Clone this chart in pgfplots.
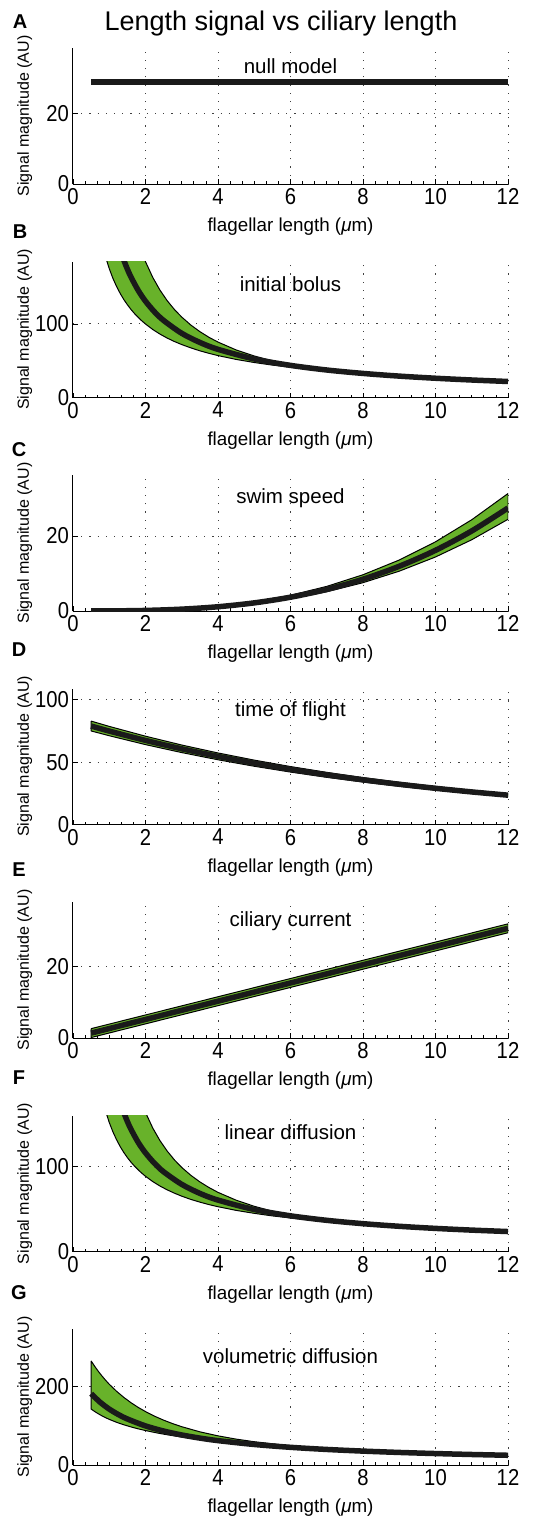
\documentclass[border=0pt]{standalone}
\usepackage{fontspec}
\setmainfont{Liberation Sans}
\usepackage{pgfplots}
\usepackage{pgfplotstable}
\pgfplotsset{compat=1.18}
\definecolor{bandgreen}{RGB}{104,178,42}
\definecolor{linecol}{RGB}{26,26,26}

% ---------- B: initial bolus ----------
\pgfplotstableread{
x y
0.9 519.4
1.0 453.2
1.1 400.6
1.2 358.0
1.3 322.7
1.4 293.2
1.5 268.2
1.6 246.7
1.7 228.1
1.8 211.8
1.9 197.5
2.0 184.8
2.2 163.4
2.4 146.0
2.6 131.6
2.8 119.6
3.0 109.4
3.25 98.6
3.5 89.6
3.75 81.9
4 75.4
4.5 64.7
5 56.5
5.5 49.9
6 44.6
7 37.4
8 32.75
9 29.11
10 26.2
11 23.82
12 21.83
11 23.82
10 26.2
9 29.11
8 32.5
7 36.2
6 41.1
5.5 44.1
5 47.6
4.5 51.8
4 57.0
3.75 60.1
3.5 63.5
3.25 67.5
3.0 72.0
2.8 76.1
2.6 80.8
2.4 86.2
2.2 92.5
2.0 100.0
1.9 104.2
1.8 108.9
1.7 114.0
1.6 119.8
1.5 126.2
1.4 133.4
1.3 141.7
1.2 151.2
1.1 162.2
1.0 175.3
0.9 190.9
0.9 519.4
}\polyB
\pgfplotstableread{
x c
1.3 201.5
1.4 187.1
1.5 174.7
1.6 163.8
1.8 145.6
2 131
2.25 116.4
2.5 104.8
3 87.3
3.5 74.9
4 65.5
5 52.4
6 43.7
7 37.4
8 32.75
9 29.1
10 26.2
11 23.8
12 21.8
}\cenB

% ---------- C: swim speed ----------
\pgfplotstableread{
x y
0.5 0.003
1 0.023
2 0.173
3 0.563
4 1.296
5 2.476
6 4.20
7 6.57
8 9.68
9 13.61
10 18.47
11 24.36
12 31.35
12 24.48
11 19.02
10 14.42
9 10.63
8 7.56
7 5.13
6 3.28
5 1.933
4 1.012
3 0.440
2 0.135
1 0.018
0.5 0.0024
0.5 0.003
}\polyC
\pgfplotstableread{
x c
0.5 0.0027
1 0.020
2 0.152
3 0.494
4 1.137
5 2.172
6 3.685
7 5.76
8 8.49
9 11.94
10 16.20
11 21.37
12 27.5
}\cenC

% ---------- D: time of flight ----------
\pgfplotstableread{
x y
0.5 82.88
1 78.63
2 70.78
3 63.70
4 57.34
5 51.61
6 46.45
7 41.80
8 37.62
9 33.86
10 30.48
11 27.43
12 24.69
12 22.33
11 24.81
10 27.58
9 30.64
8 34.04
7 37.82
6 42.03
5 46.69
4 51.88
3 57.64
2 64.04
1 71.15
0.5 74.98
0.5 82.88
}\polyD
\pgfplotstableread{
x c
0.5 78.93
1 74.89
2 67.41
3 60.67
4 54.61
5 49.15
6 44.24
7 39.81
8 35.83
9 32.25
10 29.03
11 26.12
12 23.51
}\cenD

% ---------- E: ciliary current ----------
\pgfplotstableread{
x y
0.5 2.63
12 32.07
12 29.57
0.5 0.13
0.5 2.63
}\polyE
\pgfplotstableread{
x c
0.5 1.38
12 30.82
}\cenE

% ---------- F: linear diffusion ----------
\pgfplotstableread{
x y
0.9 449.1
1.0 392.7
1.1 347.9
1.2 311.5
1.3 281.5
1.4 256.3
1.5 234.9
1.6 216.6
1.7 200.7
1.8 186.8
1.9 174.5
2.0 163.7
2.2 145.3
2.4 130.4
2.6 118.1
2.8 107.7
3.0 98.9
3.25 89.7
3.5 81.9
3.75 75.3
4 69.6
4.5 60.4
5 53.2
5.5 47.5
6 42.9
7 36.71
8 32.75
9 29.67
10 27.2
11 25.18
12 23.5
11 25.18
10 27.2
9 29.67
8 32.5
7 35.5
6 39.5
5.5 41.9
5 44.9
4.5 48.4
4 52.7
3.75 55.2
3.5 58.1
3.25 61.3
3.0 65.1
2.8 68.6
2.6 72.5
2.4 77.0
2.2 82.3
2.0 88.5
1.9 92.1
1.8 96.0
1.7 100.3
1.6 105.1
1.5 110.5
1.4 116.6
1.3 123.6
1.2 131.6
1.1 140.9
1.0 151.8
0.9 165.0
0.9 449.1
}\polyF
\pgfplotstableread{
x c
1.3 175.8
1.4 163.6
1.5 153
1.6 143.8
1.8 128.3
2 116
2.25 103.7
2.5 93.8
3 79
3.5 68.4
4 60.5
5 49.4
6 42
7 36.7
8 32.75
9 29.67
10 27.2
11 25.18
12 23.5
}\cenF

% ---------- G: volumetric diffusion ----------
\pgfplotstableread{
x y
0.5 264.0
0.6 250.2
0.7 237.5
0.8 225.8
0.9 215.0
1.0 204.9
1.2 187.2
1.4 171.7
1.6 158.1
1.8 146.1
2.0 135.6
2.25 123.9
2.5 113.8
2.75 105.0
3 97.2
3.5 84.2
4 74.0
4.5 65.7
5 59.1
6 48.9
7 41.8
8 36.6
9 32.6
10 29.5
11 26.9
12 24.8
12 24.7
11 26.7
10 29.1
9 31.9
8 35.2
7 39.3
6 44.4
5 51.0
4.5 54.9
4 59.5
3.5 64.8
3 70.9
2.75 74.5
2.5 78.3
2.25 82.6
2.0 87.5
1.8 91.7
1.6 96.6
1.4 102.1
1.2 108.4
1.0 115.8
0.9 120.1
0.8 124.7
0.7 129.9
0.6 135.6
0.5 142.0
0.5 264.0
}\polyG
\pgfplotstableread{
x c
0.5 181.0
0.75 159.1
1 141.9
1.25 128.1
1.5 116.8
2 99.2
2.5 86.2
3 76.2
3.5 68.3
4 61.9
5 52.1
6 44.9
7 39.5
8 35.3
9 31.9
10 29.1
11 26.7
12 24.7
}\cenG

\pgfplotsset{
  panel/.style={
    scale only axis, width=435pt, height=136pt,
    xmin=0, xmax=12, ymin=0,
    axis x line*=bottom, axis y line*=left,
    axis line style={-, line width=1pt, black},
    xtick={0,2,...,12},
    minor x tick num=5,
    tick align=inside,
    major tick length=5pt, minor tick length=3pt,
    every tick/.style={line width=0.8pt, black},
    grid=major,
    major grid style={dash pattern=on 1.2pt off 7pt, line width=1pt, black!75},
    ticklabel style={font=\fontsize{23}{23}\selectfont, xscale=0.88},
    xticklabel style={yshift=-1pt},
    yticklabel style={xshift=-1pt},
    /pgf/number format/assume math mode=true,
    xlabel={flagellar length ({\itshape μ}m)},
    ylabel={Signal magnitude (AU)},
    xlabel style={font=\fontsize{18.8}{18.8}\selectfont, at={(axis description cs:0.5,-0.316)}, anchor=center},
    ylabel style={font=\fontsize{16}{16}\selectfont, at={(axis description cs:-0.111,0.5)}, anchor=center},
    no markers,
  },
  band/.style={fill=bandgreen, draw=black, line width=1pt, line join=round},
  centre/.style={linecol, line width=5.5pt, smooth},
}
\tikzset{ptext/.style={font=\fontsize{20.5}{24}\selectfont, anchor=center}}

\begin{document}
\begin{tikzpicture}
\useasboundingbox (0pt,0pt) rectangle (544pt,-1520pt);

\node[font=\fontsize{27}{30}\selectfont] at (281pt,-24pt) {Length signal vs ciliary length};

\begin{scope}[every node/.style={font=\fontsize{20}{20}\selectfont\bfseries}]
\node at (20pt,-22pt) {A};
\node at (20pt,-232pt) {B};
\node at (19pt,-450pt) {C};
\node at (19pt,-650pt) {D};
\node at (19pt,-870pt) {E};
\node at (19pt,-1078pt) {F};
\node at (19pt,-1293pt) {G};
\end{scope}

% A
\begin{axis}[panel, at={(73pt,-184pt)}, anchor=south west, ymax=38.8, ytick={0,20}]
\addplot[linecol, line width=6pt] coordinates {(0.5,29) (12,29)};
\node[ptext] at (rel axis cs:0.5,0.868) {null model};
\end{axis}

% B
\begin{axis}[panel, at={(73pt,-397.5pt)}, anchor=south west, ymax=185, ytick={0,100}]
\addplot[band] table[x=x,y=y]{\polyB};
\addplot[centre] table[x=x,y=c]{\cenB};
\node[ptext] at (rel axis cs:0.5,0.831) {initial bolus};
\end{axis}

% C
\begin{axis}[panel, at={(73pt,-611pt)}, anchor=south west, ymax=36.3, ytick={0,20}]
\addplot[band] table[x=x,y=y]{\polyC};
\addplot[centre] table[x=x,y=c]{\cenC};
\node[ptext] at (rel axis cs:0.5,0.831) {swim speed};
\end{axis}

% D
\begin{axis}[panel, at={(73pt,-824.5pt)}, anchor=south west, ymax=109, ytick={0,50,100}]
\addplot[band] table[x=x,y=y]{\polyD};
\addplot[centre] table[x=x,y=c]{\cenD};
\node[ptext] at (rel axis cs:0.5,0.831) {time of flight};
\end{axis}

% E
\begin{axis}[panel, at={(73pt,-1038pt)}, anchor=south west, ymax=38.2, ytick={0,20}]
\addplot[band] table[x=x,y=y]{\polyE};
\addplot[linecol, line width=5.5pt] table[x=x,y=c]{\cenE};
\node[ptext] at (rel axis cs:0.5,0.86) {ciliary current};
\end{axis}

% F
\begin{axis}[panel, at={(73pt,-1251.5pt)}, anchor=south west, ymax=160, ytick={0,100}]
\addplot[band] table[x=x,y=y]{\polyF};
\addplot[centre] table[x=x,y=c]{\cenF};
\node[ptext] at (rel axis cs:0.5,0.875) {linear diffusion};
\end{axis}

% G
\begin{axis}[panel, at={(73pt,-1465pt)}, anchor=south west, ymax=345, ytick={0,200}]
\addplot[band] table[x=x,y=y]{\polyG};
\addplot[centre] table[x=x,y=c]{\cenG};
\node[ptext] at (rel axis cs:0.5,0.80) {volumetric diffusion};
\end{axis}

\end{tikzpicture}
\end{document}
